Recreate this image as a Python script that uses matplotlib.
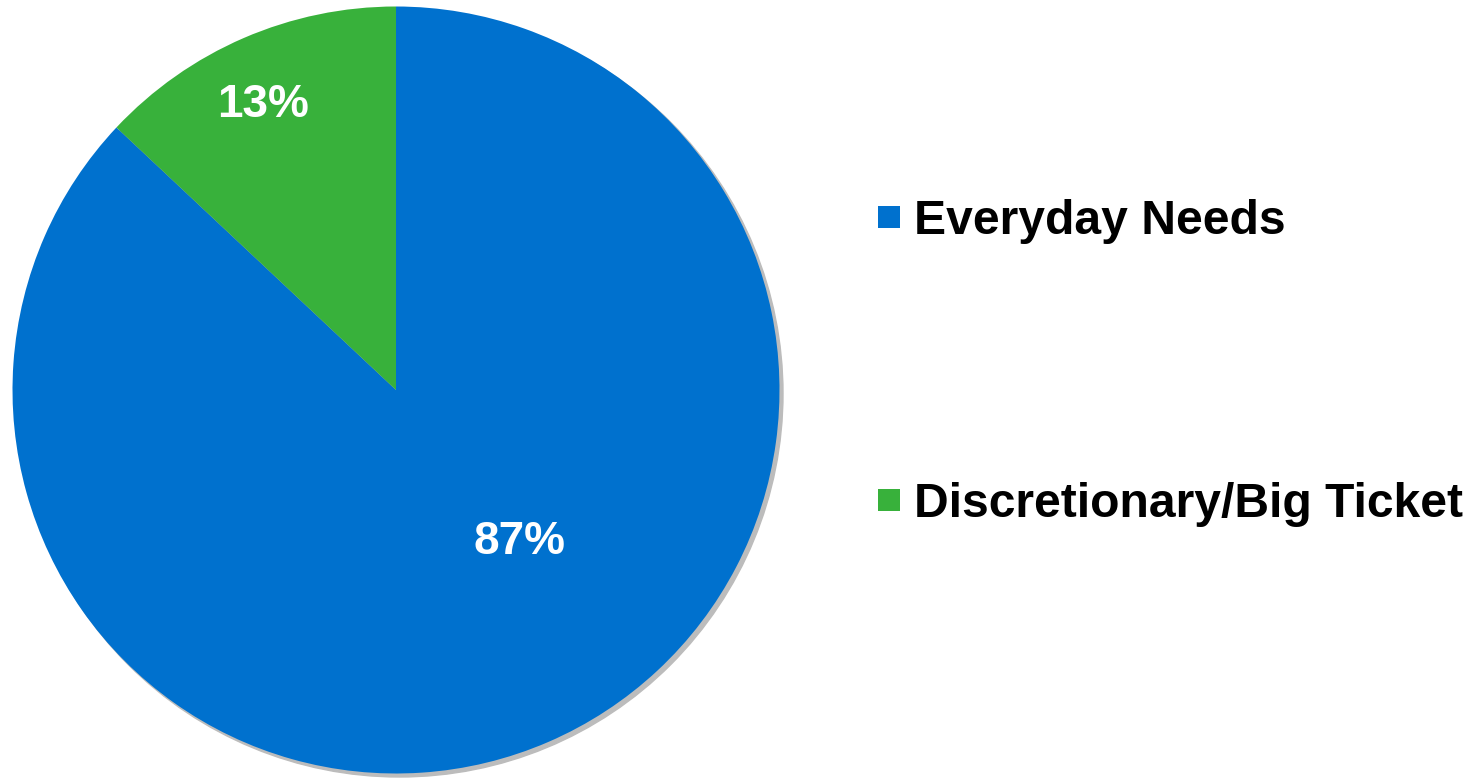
import numpy as np
import matplotlib.pyplot as plt
from matplotlib.patches import Circle
from matplotlib.lines import Line2D

## data
categories = ['Everyday Needs', 'Discretionary/Big Ticket']
shares = [87, 13]
colors = ['#0071ce', '#38b13b']

## label placement (radius fraction, angle in degrees) for each slice
label_pos = [(0.51, -51.0), (0.82, 115.0)]

plt.rcParams['font.family'] = ['Liberation Sans', 'DejaVu Sans']

W, H = 1479, 778
fig = plt.figure(figsize=(W / 100, H / 100), dpi=100)

## pie centre (396, 390) px from top-left, radius ~383.5 px
cx, cy, r = 396, 390, 383.5
lim = 1.02
ax = fig.add_axes([(cx - r * lim) / W, (H - cy - r * lim) / H,
                   2 * r * lim / W, 2 * r * lim / H])

# grey rim to the lower right
off = 3.5 / r
ax.add_patch(Circle((off, -off), 1.0, color='#bcbcbc', zorder=0))

wedges, _, autotexts = ax.pie(shares, colors=colors, startangle=90, counterclock=False,
                              radius=1.0, autopct='%d%%', frame=True,
                              textprops=dict(color='white', fontsize=33, fontweight='bold'),
                              wedgeprops=dict(linewidth=0))
for t, (rf, ang) in zip(autotexts, label_pos):
    a = np.deg2rad(ang)
    t.set_position((rf * np.cos(a), rf * np.sin(a)))
    t.set_ha('center')
    t.set_va('center')
ax.set_xlim(-lim, lim)
ax.set_ylim(-lim, lim)
ax.set_aspect('equal')
ax.axis('off')

handles = [Line2D([], [], marker='s', linestyle='none', markersize=16,
                  markerfacecolor=c, markeredgewidth=0) for c in colors]
leg = fig.legend(handles, categories, loc='upper left',
                 bbox_to_anchor=(876 / W, 1 - 199 / H), frameon=False,
                 prop=dict(size=34.6, weight='bold'), labelspacing=4.95,
                 handlelength=0.55, handletextpad=0.25, borderpad=0,
                 borderaxespad=0)

fig.savefig('out.png', dpi=100)
